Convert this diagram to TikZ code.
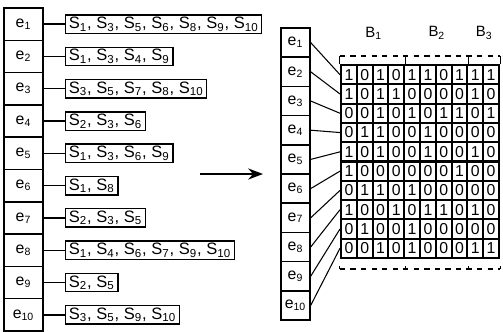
\documentclass[tikz,border=0pt]{standalone}
\usepackage{fontspec}
\setmainfont{Liberation Sans}
\usetikzlibrary{arrows.meta, positioning}

\newcommand{\Sx}[1]{S\textsubscript{#1}}
\newcommand{\ex}[1]{e\textsubscript{#1}}

\tikzset{
  ebox/.style={draw, thick, minimum width=7.8mm, minimum height=6.46mm, inner sep=0pt, font=\fontsize{9}{10}\selectfont},
  rbox/.style={draw, thick, minimum width=5.8mm, minimum height=5.84mm, inner sep=0pt, font=\fontsize{9}{10}\selectfont},
  setbox/.style={draw, thick, anchor=west, minimum height=3.6mm, inner xsep=1.8pt, inner ysep=1.2pt, font=\fontsize{9.4}{10}\selectfont},
  bitcell/.style={draw, very thick, minimum width=3.16mm, minimum height=3.86mm, inner sep=0pt, font=\fontsize{9}{10}\selectfont},
}

\begin{document}
\begin{tikzpicture}[>=Stealth, thick, x=0.02cm, y=-0.02cm]
  \useasboundingbox (0,0) rectangle (503,331);

  % elements with their sets
  \foreach \i/\txt in {
      1/{\Sx{1}, \Sx{3}, \Sx{5}, \Sx{6}, \Sx{8}, \Sx{9}, \Sx{10}},
      2/{\Sx{1}, \Sx{3}, \Sx{4}, \Sx{9}},
      3/{\Sx{3}, \Sx{5}, \Sx{7}, \Sx{8}, \Sx{10}},
      4/{\Sx{2}, \Sx{3}, \Sx{6}},
      5/{\Sx{1}, \Sx{3}, \Sx{6}, \Sx{9}},
      6/{\Sx{1}, \Sx{8}},
      7/{\Sx{2}, \Sx{3}, \Sx{5}},
      8/{\Sx{1}, \Sx{4}, \Sx{6}, \Sx{7}, \Sx{9}, \Sx{10}},
      9/{\Sx{2}, \Sx{5}},
      10/{\Sx{3}, \Sx{5}, \Sx{9}, \Sx{10}}} {
    \node[ebox] (le\i) at (23.5, {8+(\i-0.5)*32.3}) {\ex{\i}};
    \node[setbox] (ls\i) at (65, {8+(\i-0.5)*32.3}) {\txt};
    \draw (le\i.east) -- (ls\i.west);
  }

  % transformation arrow
  \coordinate (arrS) at (200,174);
  \coordinate (arrE) at (263,174);
  \draw[->, line width=1.2pt] (arrS) -- (arrE);

  % bit matrix
  \foreach \row [count=\i] in {
      {1,0,1,0,1,1,0,1,1,1},
      {1,0,1,1,0,0,0,0,1,0},
      {0,0,1,0,1,0,1,1,0,1},
      {0,1,1,0,0,1,0,0,0,0},
      {1,0,1,0,0,1,0,0,1,0},
      {1,0,0,0,0,0,0,1,0,0},
      {0,1,1,0,1,0,0,0,0,0},
      {1,0,0,1,0,1,1,0,1,0},
      {0,1,0,0,1,0,0,0,0,0},
      {0,0,1,0,1,0,0,0,1,1}} {
    \foreach \b [count=\j] in \row {
      \node[bitcell] (m\i-\j) at ({341+(\j-0.5)*15.8}, {65+(\i-0.5)*19.3}) {\b};
    }
  }

  % element column and links
  \foreach \i in {1,...,10} {
    \node[rbox] (re\i) at (295.5, {28+(\i-0.5)*29.2}) {\ex{\i}};
    \draw[semithick] (re\i.east) -- (m\i-1.west);
  }

  % blocks
  \draw[dashed] ([yshift=1.6mm]m1-1.north west) -- ([yshift=1.6mm]m1-10.north east);
  \draw[dashed] ([yshift=-2mm]m10-1.south west) -- ([yshift=-2mm]m10-10.south east);
  \foreach \c in {1-1.north west, 1-4.north east, 1-8.north east, 1-10.north east} {
    \draw[semithick] ([yshift=1.6mm]m\c) -- (m\c);
  }
  \foreach \c in {10-1.south west, 10-4.south east, 10-8.south east, 10-10.south east} {
    \draw[semithick] ([yshift=-2mm]m\c) -- ([yshift=-1.4mm]m\c);
  }
  \node[above=3.6mm of m1-2.north east, font=\fontsize{8.5}{10}\selectfont] (B1) {B\textsubscript{1}};
  \node[above=3.6mm of m1-6.north east, font=\fontsize{8.5}{10}\selectfont] (B2) {B\textsubscript{2}};
  \node[above=3.6mm of m1-9.north east, font=\fontsize{8.5}{10}\selectfont] (B3) {B\textsubscript{3}};
\end{tikzpicture}
\end{document}
